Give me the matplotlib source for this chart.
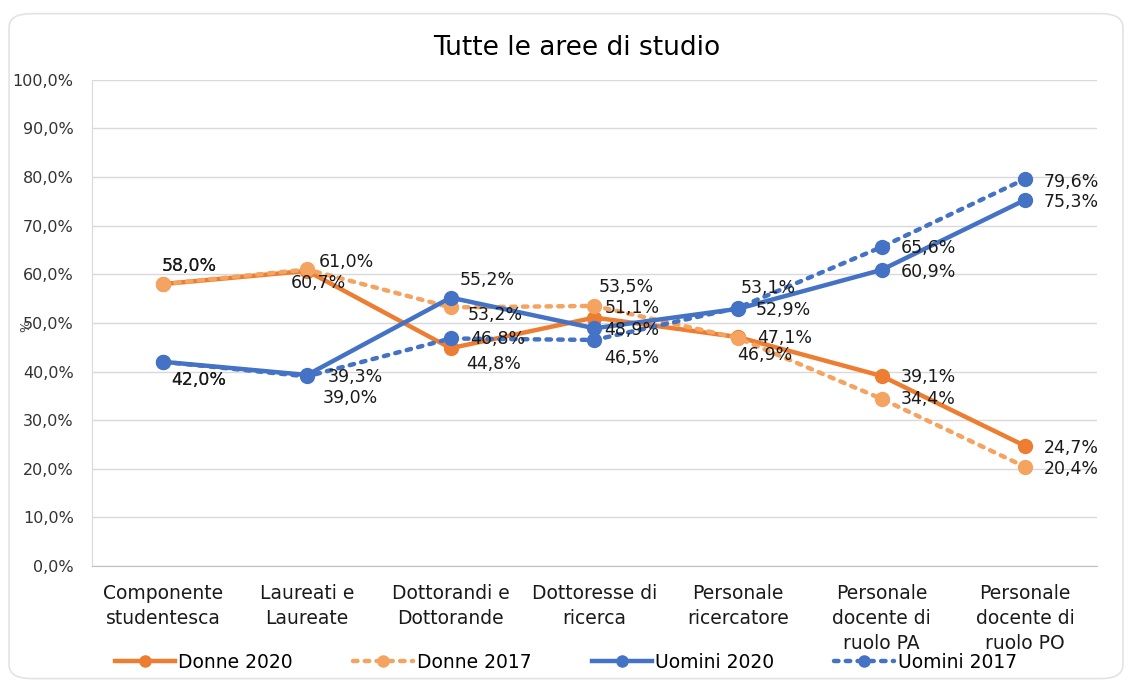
import matplotlib.pyplot as plt
from matplotlib.patches import FancyBboxPatch
from matplotlib.lines import Line2D

categorie = ['Componente\nstudentesca', 'Laureati e\nLaureate', 'Dottorandi e\nDottorande',
             'Dottoresse di\nricerca', 'Personale\nricercatore', 'Personale\ndocente di\nruolo PA',
             'Personale\ndocente di\nruolo PO']
donne_2020 = [58.0, 60.7, 44.8, 51.1, 47.1, 39.1, 24.7]
donne_2017 = [58.0, 61.0, 53.2, 53.5, 46.9, 34.4, 20.4]
uomini_2020 = [42.0, 39.3, 55.2, 48.9, 52.9, 60.9, 75.3]
uomini_2017 = [42.0, 39.0, 46.8, 46.5, 53.1, 65.6, 79.6]

# posizione etichette (pixel rispetto al marker: bordo sinistro, centro verticale)
off_d20 = [(-2, 18), (-16, -12), (15, -16), (10, 10), (19, -1), (19, -1), (19, -2)]
off_d17 = [(-2, 18), (12, 7), (17, -8), (4, 19), (-1, -17), (19, 0), (19, -2)]
off_u20 = [(8, -18), (21, -2), (9, 18), (10, -2), (18, -1), (19, -2), (19, -2)]
off_u17 = [(8, -18), (16, -22), (19, -1), (10, -18), (3, 20), (19, -1), (19, -3)]

arancio = '#ED7D31'
arancio_chiaro = '#F4A460'
blu = '#4472C4'

fig = plt.figure(figsize=(11.32, 6.82), dpi=100)
ax = fig.add_axes([0.081, 0.170, 0.888, 0.713])

# cornice arrotondata del grafico
fig.patches.append(FancyBboxPatch((0.008, 0.005), 0.984, 0.975, boxstyle='round,pad=0,rounding_size=0.02',
                                  transform=fig.transFigure, fill=False, edgecolor='#E3E3E3', lw=1.2))

x = range(len(categorie))
serie = [
    ('Donne 2020', donne_2020, off_d20, arancio, '-'),
    ('Donne 2017', donne_2017, off_d17, arancio_chiaro, ':'),
    ('Uomini 2020', uomini_2020, off_u20, blu, '-'),
    ('Uomini 2017', uomini_2017, off_u17, blu, ':'),
]
handles = []
for nome, vals, offs, col, ls in serie:
    ln, = ax.plot(x, vals, color=col, ls=ls, lw=3.2, marker='o', markersize=10,
                  dash_capstyle='round', solid_capstyle='round', label=nome, zorder=3)
    handles.append(ln)
    for i, v in enumerate(vals):
        ax.annotate(f'{v:.1f}%'.replace('.', ','), (i, v), xytext=offs[i], textcoords='offset pixels',
                    ha='left', va='center', fontsize=12.5, color='#1a1a1a', zorder=5)

ax.set_xlim(-0.5, 6.5)
ax.set_ylim(0, 100)
ax.set_yticks(range(0, 101, 10))
ax.set_yticklabels([f'{t},0%' for t in range(0, 101, 10)], fontsize=11.5, color='#333333')
ax.set_xticks(list(x))
ax.set_xticklabels(categorie, fontsize=13.5, color='#1a1a1a', linespacing=1.4, va='top')
ax.tick_params(axis='y', length=0, pad=13)
ax.tick_params(axis='x', length=0, pad=13)
ax.grid(axis='y', color='#D9D9D9', lw=1)
ax.set_axisbelow(True)
for s in ['top', 'right']:
    ax.spines[s].set_visible(False)
ax.spines['left'].set_color('#D9D9D9')
ax.spines['bottom'].set_color('#BFBFBF')

ax.set_title('Tutte le aree di studio', fontsize=19, pad=18, x=0.483)
fig.text(0.017, 0.522, '%', rotation=90, fontsize=9, color='#444444', va='center')

leg_handles = [Line2D([], [], color=h.get_color(), ls=h.get_linestyle(), lw=3.2, marker='o', markersize=8,
                      dash_capstyle='round') for h in handles]
fig.legend(leg_handles, [s[0] for s in serie], loc='lower center', bbox_to_anchor=(0.5, -0.01), ncol=4,
           frameon=False, prop={'size': 13.5}, handlelength=3.2, columnspacing=3.2,
           handletextpad=0.2)

fig.savefig('out.png', dpi=100)
